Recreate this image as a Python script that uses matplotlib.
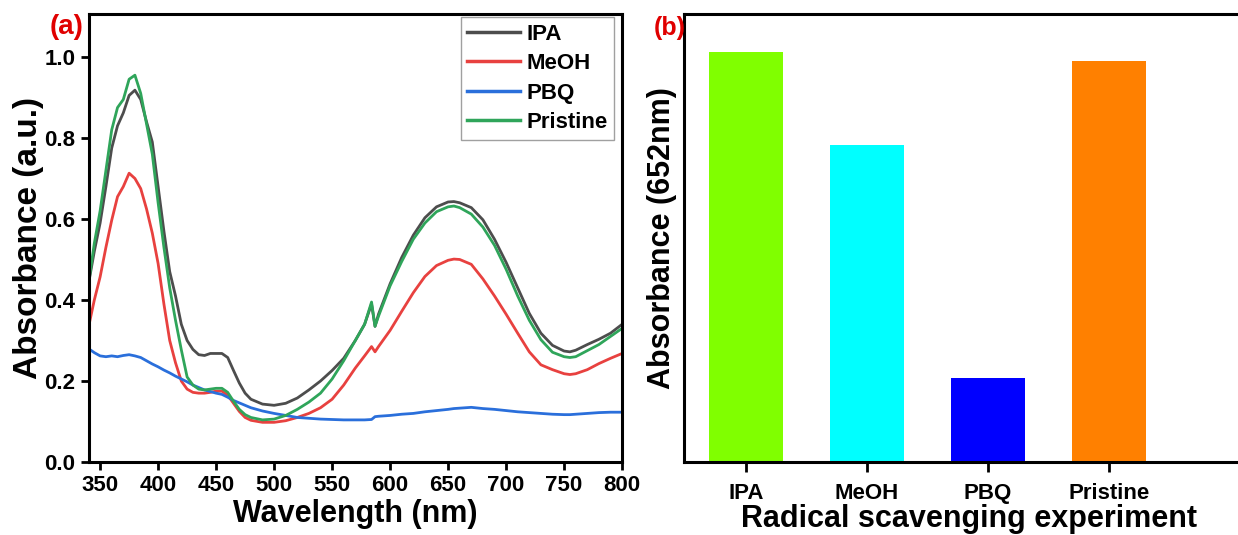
import numpy as np
import matplotlib
matplotlib.use('Agg')
import matplotlib.pyplot as plt

plt.rcParams['font.family'] = ['Liberation Sans', 'DejaVu Sans']
plt.rcParams['font.weight'] = 'bold'

# Wavelength grid (nm)
wl = [340, 345, 350, 355, 360, 365, 370, 375, 380, 385, 390, 395, 400, 405, 410,
      415, 420, 425, 430, 435, 440, 445, 450, 455, 460, 465, 470, 475, 480, 490,
      500, 510, 520, 530, 540, 550, 560, 570, 578, 584, 587, 590, 600, 610, 620,
      630, 640, 650, 655, 660, 670, 680, 690, 700, 710, 720, 730, 740, 750, 755,
      760, 770, 780, 790, 800]

ipa = [0.44, 0.52, 0.59, 0.68, 0.775, 0.83, 0.862, 0.905, 0.918, 0.895, 0.84, 0.79, 0.68, 0.57, 0.47,
       0.41, 0.34, 0.30, 0.278, 0.265, 0.263, 0.268, 0.268, 0.268, 0.258, 0.226, 0.195, 0.17, 0.155, 0.143,
       0.140, 0.145, 0.158, 0.178, 0.20, 0.226, 0.256, 0.30, 0.34, 0.39, 0.335, 0.365, 0.44, 0.505, 0.56,
       0.603, 0.63, 0.642, 0.643, 0.64, 0.628, 0.598, 0.55, 0.493, 0.43, 0.367, 0.318, 0.288, 0.274, 0.272,
       0.276, 0.29, 0.303, 0.318, 0.34]

meoh = [0.333, 0.40, 0.457, 0.53, 0.597, 0.655, 0.68, 0.713, 0.70, 0.675, 0.625, 0.565, 0.49, 0.39, 0.30,
        0.245, 0.20, 0.18, 0.172, 0.17, 0.17, 0.172, 0.175, 0.175, 0.165, 0.145, 0.125, 0.11, 0.103, 0.098,
        0.098, 0.102, 0.11, 0.12, 0.134, 0.155, 0.19, 0.232, 0.262, 0.285, 0.272, 0.285, 0.325, 0.372, 0.418,
        0.458, 0.485, 0.498, 0.501, 0.50, 0.488, 0.452, 0.41, 0.365, 0.318, 0.272, 0.24, 0.228, 0.218, 0.216,
        0.218, 0.228, 0.243, 0.256, 0.268]

pbq = [0.28, 0.27, 0.262, 0.26, 0.262, 0.26, 0.263, 0.265, 0.262, 0.258, 0.25, 0.242, 0.235, 0.227, 0.22,
       0.212, 0.205, 0.198, 0.19, 0.184, 0.178, 0.174, 0.17, 0.167, 0.16, 0.152, 0.146, 0.14, 0.134, 0.126,
       0.12, 0.115, 0.11, 0.108, 0.106, 0.105, 0.104, 0.104, 0.104, 0.105, 0.112, 0.113, 0.115, 0.118, 0.12,
       0.124, 0.127, 0.13, 0.132, 0.133, 0.135, 0.132, 0.13, 0.127, 0.124, 0.122, 0.12, 0.118, 0.117, 0.117,
       0.118, 0.12, 0.122, 0.123, 0.123]

pristine = [0.44, 0.54, 0.62, 0.72, 0.82, 0.875, 0.895, 0.945, 0.955, 0.91, 0.835, 0.76, 0.64, 0.53, 0.43,
            0.35, 0.277, 0.21, 0.19, 0.18, 0.178, 0.18, 0.182, 0.182, 0.172, 0.15, 0.13, 0.117, 0.11, 0.104,
            0.106, 0.115, 0.13, 0.148, 0.17, 0.205, 0.25, 0.30, 0.34, 0.395, 0.335, 0.36, 0.435, 0.495, 0.55,
            0.59, 0.618, 0.63, 0.632, 0.628, 0.612, 0.58, 0.535, 0.476, 0.41, 0.35, 0.302, 0.271, 0.26, 0.258,
            0.26, 0.275, 0.29, 0.31, 0.33]

series_names = ['IPA', 'MeOH', 'PBQ', 'Pristine']
line_colors = ['#4d4d4d', '#e8413f', '#2a6fdb', '#2fa55a']

# Absorbance at 652 nm
bar_values = [0.64, 0.495, 0.132, 0.627]
bar_colors = ['#80ff00', '#00ffff', '#0000ff', '#ff8000']

fig = plt.figure(figsize=(12.38, 5.35), dpi=100)

# (a) spectra
ax1 = fig.add_axes([0.0715, 0.1364, 0.431, 0.8374])
for ys, name, c in zip([ipa, meoh, pbq, pristine], series_names, line_colors):
    ax1.plot(wl, ys, color=c, lw=2.0, label=name)
ax1.set_xlim(340, 800)
ax1.set_ylim(0, 1.106)
ax1.set_xticks(np.arange(350, 801, 50))
ax1.set_yticks([0.0, 0.2, 0.4, 0.6, 0.8, 1.0])
ax1.set_yticklabels(['0.0', '0.2', '0.4', '0.6', '0.8', '1.0'])
ax1.tick_params(direction='out', length=6, width=2, labelsize=16)
for s in ax1.spines.values():
    s.set_linewidth(2.2)
ax1.set_xlabel('Wavelength (nm)', fontsize=22, fontweight='bold', labelpad=2)
ax1.set_ylabel('Absorbance (a.u.)', fontsize=24, fontweight='bold', labelpad=0)
leg = ax1.legend(loc='upper right', bbox_to_anchor=(0.985, 0.993), borderaxespad=0,
                 fontsize=16, frameon=True, fancybox=False, edgecolor='#888888',
                 handlelength=2.35, handletextpad=0.3, labelspacing=0.38,
                 borderpad=0.3)
leg.get_frame().set_linewidth(1.0)
for h in leg.get_lines():
    h.set_linewidth(2.5)
fig.text(0.040, 0.937, '(a)', color='#e00000', fontsize=20, fontweight='bold')

# (b) bars
ax2 = fig.add_axes([0.5525, 0.1364, 0.46, 0.8374])
xpos = np.arange(len(series_names))
ax2.bar(xpos, bar_values, width=0.61, color=bar_colors)
ax2.set_xlim(-0.51, 4.19)
ax2.set_ylim(0, 0.70)
ax2.set_yticks([])
ax2.set_xticks(xpos)
ax2.set_xticklabels(series_names)
ax2.tick_params(axis='x', direction='out', length=7, width=2, labelsize=16, pad=8)
for s in ax2.spines.values():
    s.set_linewidth(2.2)
ax2.spines['right'].set_visible(False)
ax2.set_xlabel('Radical scavenging experiment', fontsize=22, fontweight='bold', labelpad=0)
ax2.set_ylabel('Absorbance (652nm)', fontsize=22, fontweight='bold', labelpad=5)
fig.text(0.528, 0.935, '(b)', color='#e00000', fontsize=18, fontweight='bold')

fig.savefig('out.png', dpi=100)
